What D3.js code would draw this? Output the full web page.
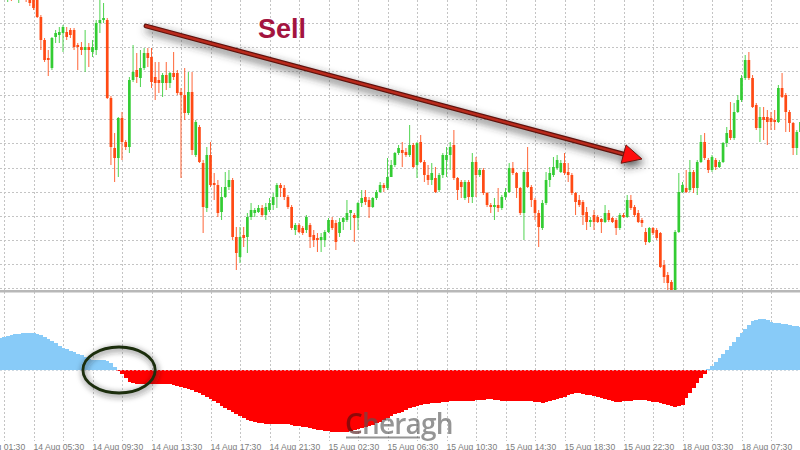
<!DOCTYPE html>
<html><head><meta charset="utf-8">
<script src="https://cdn.jsdelivr.net/npm/d3@7"></script>
<style>body{margin:0;background:#fff}svg{display:block}</style>
</head><body>
<svg id="c" width="800" height="450"></svg>
<script>
// ---- DATA ----
// candles: [open, high, low, close] in price units (one per 15-min bar, bar index = array index)
const ohlc = [
[320,335,305,328],[308,325,303,320],[305,320,298,315],[315,320,299,308],[306,322,300,318],
[310,330,297,325],[325,330,305,312],[312,315,298,304],[304,308,294,297],[300,305,290,292],
[300,303,282,283],[283,285,250,260],[260,262,238,240],[242,250,224,240],[232,263,230,262],
[263,270,257,267],[265,273,257,268],[267,275,248,273],[268,273,260,263],[270,272,262,265],
[270,272,250,253],[255,257,230,253],[253,258,245,250],[250,270,228,253],[253,257,233,250],
[248,260,243,253],[250,280,245,277],[277,300,267,280],[280,297,277,282],[280,282,201,202],
[202,204,135,153],[152,167,118,142],[142,183,123,182],[182,188,140,158],[158,160,150,153],
[153,223,147,220],[220,255,218,228],[230,247,217,223],[222,250,213,232],[232,252,230,247],
[247,252,233,242],[243,252,212,218],[223,238,200,217],[220,238,207,217],[217,227,203,225],
[225,238,210,217],[217,228,212,227],[227,248,220,223],[227,230,205,207],[208,212,122,205],
[205,232,180,187],[187,228,185,208],[208,228,145,150],[145,180,143,178],[173,175,137,138],
[137,140,67,93],[92,153,88,145],[145,158,113,115],[117,127,100,115],[115,120,83,87],
[88,113,80,103],[103,128,102,113],[113,130,110,120],[120,122,60,63],[63,73,30,47],
[43,73,37,63],[65,73,53,62],[63,87,47,83],[83,97,80,90],[87,92,83,90],
[88,95,87,92],[92,95,83,85],[85,97,80,93],[90,102,88,97],[95,107,90,103],
[103,117,92,115],[115,117,103,112],[112,115,100,103],[103,105,91,93],[93,95,70,72],
[70,77,65,75],[75,77,67,68],[72,74,65,67],[70,85,67,83],[75,77,52,63],
[65,70,53,60],[62,67,48,60],[60,67,48,63],[60,70,53,68],[68,82,67,80],
[80,83,70,72],[77,80,50,58],[67,82,63,78],[78,83,70,82],[80,100,78,87],
[87,90,70,90],[85,87,58,82],[82,98,70,97],[97,110,93,102],[103,110,95,98],
[100,103,82,93],[93,103,92,102],[102,110,100,108],[108,118,107,115],[115,117,108,112],
[112,142,110,123],[123,140,123,135],[135,148,133,147],[147,155,145,152],[150,158,133,147],
[148,152,143,145],[145,175,143,155],[155,157,132,133],[135,158,122,157],[158,165,137,138],
[138,140,118,125],[125,135,115,120],[120,137,115,127],[122,133,107,108],[110,127,108,125],
[125,147,122,145],[140,153,123,145],[145,158,130,153],[155,170,120,122],[122,123,100,110],
[118,120,102,113],[102,120,100,118],[118,120,97,103],[103,147,97,138],[138,143,103,125],
[125,132,123,130],[130,132,105,107],[107,108,93,95],[95,97,87,93],[93,102,80,95],
[95,112,88,92],[92,105,90,103],[103,112,100,108],[108,137,107,132],[132,138,125,127],
[127,128,102,112],[112,113,85,87],[87,130,60,128],[128,153,112,113],[113,115,93,100],
[100,102,80,87],[87,90,53,73],[72,100,70,97],[97,128,95,120],[120,133,113,127],
[125,143,123,133],[132,145,130,140],[128,140,127,137],[137,147,125,127],[128,137,118,125],
[125,127,105,107],[107,108,85,98],[100,105,93,95],[98,100,75,85],[88,93,70,78],
[78,83,73,80],[85,90,70,78],[83,85,77,78],[81,82,67,78],[78,95,77,87],
[87,90,78,80],[82,83,77,78],[80,82,65,72],[72,87,70,85],[85,87,82,83],
[83,105,82,100],[100,105,90,92],[93,95,83,85],[87,90,77,78],[80,82,73,77],
[68,72,55,58],[58,73,57,72],[72,73,65,67],[70,72,60,62],[67,68,32,33],
[35,40,17,23],[25,28,10,17],[18,20,7,10],[10,70,8,68],[68,127,67,108],
[108,118,107,115],[112,130,107,108],[110,140,108,128],[128,130,107,112],[112,140,105,138],
[138,165,137,158],[158,167,140,142],[140,142,127,130],[130,145,128,143],[140,142,130,133],
[133,140,132,138],[138,158,137,157],[157,173,153,167],[170,198,160,162],[162,197,160,188],
[188,205,187,200],[200,225,198,222],[222,245,220,240],[240,248,220,222],[222,225,192,193],
[195,197,170,172],[172,193,158,183],[183,193,160,180],[183,190,155,178],[182,188,170,178],
[180,190,170,178],[178,215,177,212],[212,227,202,203],[205,207,168,188],[188,190,168,177],
[177,178,145,152],[152,170,145,168],[168,182,165,178]
];
// oscillator histogram, one value per bar
const osc = [
32,33,34,35,36,36,37,37,37,37,
36,35,33,31,29,27,24,22,21,19,
18,16,15,13,11,10,10,10,10,9,
7,3,-1,-4,-8,-12,-13,-14,-14,-14,
-14,-14,-14,-14,-14,-14,-14,-15,-16,-17,
-18,-19,-20,-22,-23,-25,-27,-29,-31,-33,
-36,-38,-40,-42,-44,-46,-48,-50,-51,-52,
-53,-53,-54,-54,-54,-54,-54,-54,-54,-55,
-56,-56,-57,-57,-58,-59,-60,-60,-61,-61,
-62,-62,-62,-62,-62,-61,-60,-59,-58,-57,
-56,-55,-53,-52,-50,-48,-46,-44,-43,-42,
-40,-38,-37,-36,-35,-34,-34,-33,-33,-33,
-32,-32,-31,-31,-31,-31,-31,-31,-31,-30,
-30,-30,-29,-29,-30,-30,-31,-31,-31,-31,
-31,-31,-31,-31,-31,-32,-32,-33,-32,-31,
-30,-29,-28,-27,-25,-24,-23,-23,-24,-25,
-25,-26,-27,-28,-29,-30,-31,-32,-32,-31,
-31,-31,-30,-30,-30,-30,-31,-32,-32,-33,
-34,-35,-36,-37,-36,-35,-28,-23,-18,-13,
-8,-4,1,4,8,12,16,20,24,28,
33,37,41,45,49,50,51,51,50,48,
47,47,46,46,45,44,44,43
];
const tickBars = [-7,9,25,41,57,73,89,105,121,137,153,169,185,201];
const tickLabels = ["14 Aug 01:30","14 Aug 05:30","14 Aug 09:30","14 Aug 13:30","14 Aug 17:30",
  "14 Aug 21:30","15 Aug 02:30","15 Aug 06:30","15 Aug 10:30","15 Aug 14:30","15 Aug 18:30",
  "15 Aug 22:30","18 Aug 03:30","18 Aug 07:30"];
const sellText = "Sell";
const arrowFrom = {bar: 39.5, price: 274};
const arrowTo = {bar: 174, price: 141};
const circleAt = {bar: 32.2, value: 0, rBars: 9.8, rValue: 23};
const sellAt = {bar: 69.9, price: 262.5};
const watermark = ["C","heragh"];

// ---- SCALES ----
const svg = d3.select("#c");
const barStep = 3.6875;
const x = d3.scaleLinear().domain([1, 2]).range([4, 4 + barStep]);
const y = d3.scaleLinear().domain([0, 300]).range([300, 0]);
const yo = d3.scaleLinear().domain([-80, 78]).range([450, 292]);

const defs = svg.append("defs");
defs.append("clipPath").attr("id","topClip").append("rect").attr("x",0).attr("y",0).attr("width",800).attr("height",290);
const f = defs.append("filter").attr("id","sh").attr("x","-30%").attr("y","-60%").attr("width","160%").attr("height","220%");
f.append("feDropShadow").attr("dx",2).attr("dy",4).attr("stdDeviation",4).attr("flood-color","#333").attr("flood-opacity",0.85);
const f2 = defs.append("filter").attr("id","sh2").attr("x","-30%").attr("y","-30%").attr("width","160%").attr("height","160%");
f2.append("feDropShadow").attr("dx",1).attr("dy",2).attr("stdDeviation",3).attr("flood-color","#222").attr("flood-opacity",0.75);

// ---- GRID ----
const gridCol = "#c4c4c4";
const vBars = d3.range(-7, 230, 8);
const grid = svg.append("g");
grid.selectAll("line.v").data(vBars).join("line")
  .attr("x1", d => Math.round(x(d)) + 0.5).attr("x2", d => Math.round(x(d)) + 0.5)
  .attr("y1", 0).attr("y2", 441)
  .attr("stroke", gridCol).attr("stroke-width", 1).attr("stroke-dasharray", "2,2");
const hPrices = d3.range(11.7, 290, 24.15);
grid.selectAll("line.h").data(hPrices).join("line")
  .attr("x1", 0).attr("x2", 800)
  .attr("y1", d => Math.round(y(d)) + 0.5).attr("y2", d => Math.round(y(d)) + 0.5)
  .attr("stroke", gridCol).attr("stroke-width", 1).attr("stroke-dasharray", "2,2");

// zero line of oscillator
svg.append("line").attr("x1",0).attr("x2",800)
  .attr("y1", yo(0)+0.5).attr("y2", yo(0)+0.5)
  .attr("stroke", gridCol).attr("stroke-dasharray","2,2");

// ---- CANDLES ----
const up = "#33cc33", dn = "#ff4a14";
const cg = svg.append("g").attr("clip-path","url(#topClip)");
const cdata = ohlc.map((d,i) => ({i, o:d[0], h:d[1], l:d[2], c:d[3]}));
cg.selectAll("line.w").data(cdata).join("line")
  .attr("x1", d => x(d.i)).attr("x2", d => x(d.i))
  .attr("y1", d => y(d.h)).attr("y2", d => y(d.l))
  .attr("stroke", d => d.c >= d.o ? up : dn).attr("stroke-width", 1).attr("stroke-opacity",0.85);
cg.selectAll("rect.b").data(cdata).join("rect")
  .attr("x", d => x(d.i) - 1.35).attr("width", 2.7)
  .attr("y", d => y(Math.max(d.o, d.c)))
  .attr("height", d => Math.max(1.2, Math.abs(y(d.o) - y(d.c))))
  .attr("fill", d => d.c >= d.o ? up : dn);

// separator
svg.append("rect").attr("x",0).attr("y",290).attr("width",800).attr("height",2.5).attr("fill","#b8b8b8");

// ---- OSCILLATOR ----
svg.append("g").selectAll("rect").data(osc.map((v,i)=>({i,v}))).join("rect")
  .attr("x", d => x(d.i) - barStep/2).attr("width", barStep + 0.4)
  .attr("y", d => d.v >= 0 ? yo(d.v) : yo(0))
  .attr("height", d => Math.abs(yo(d.v) - yo(0)))
  .attr("fill", d => d.v >= 0 ? "#88cbf8" : "#ff0000")
  .attr("shape-rendering","crispEdges");
svg.append("line").attr("x1",0).attr("x2",800)
  .attr("y1", yo(0)+0.5).attr("y2", yo(0)+0.5)
  .attr("stroke", "#d8e8f4").attr("stroke-dasharray","2,2").attr("stroke-opacity",0.6);

// ---- X AXIS LABELS ----
svg.append("g").selectAll("text").data(tickBars).join("text")
  .attr("x", d => x(d)).attr("y", 449.5)
  .attr("font-family", "'Liberation Sans', Arial, sans-serif").attr("font-size", 8.6)
  .attr("fill", "#7c7c7c")
  .text((d,i) => tickLabels[i]);

// ---- WATERMARK ----
const wm = svg.append("g").attr("opacity",0.62);
const wt = wm.append("text").attr("x",345).attr("y",433.5)
  .attr("font-family","'Open Sans', sans-serif").attr("font-weight",600).attr("font-size",28).attr("fill","#555")
  .attr("letter-spacing","-0.8");
wt.append("tspan").attr("fill","#4a1010").text(watermark[0]);
wt.append("tspan").text(watermark[1]);
wm.append("line").attr("x1",346).attr("x2",420).attr("y1",437.5).attr("y2",437.5)
  .attr("stroke","#555").attr("stroke-width",1.8);

// ---- ELLIPSE ----
const ecx = x(circleAt.bar), ecy = yo(circleAt.value);
svg.append("ellipse").attr("cx", ecx).attr("cy", ecy)
  .attr("rx", x(circleAt.bar + circleAt.rBars) - ecx)
  .attr("ry", yo(0) - yo(circleAt.rValue))
  .attr("fill","none").attr("stroke","#1c2e10").attr("stroke-width",2.8)
  .attr("filter","url(#sh2)");

// ---- ARROW ----
const a0 = [x(arrowFrom.bar), y(arrowFrom.price)];
const a1 = [x(arrowTo.bar), y(arrowTo.price)];
const ang = Math.atan2(a1[1]-a0[1], a1[0]-a0[0]);
const cs = Math.cos(ang), sn = Math.sin(ang);
const hl = 19, hw = 9.5;
const base = [a1[0]-hl*cs, a1[1]-hl*sn];
const ag = svg.append("g").attr("filter","url(#sh)");
ag.append("line").attr("x1",a0[0]).attr("y1",a0[1]).attr("x2",base[0]+2*cs).attr("y2",base[1]+2*sn)
  .attr("stroke","#5e120c").attr("stroke-width",4.8).attr("stroke-linecap","round");
ag.append("line").attr("x1",a0[0]).attr("y1",a0[1]).attr("x2",base[0]+2*cs).attr("y2",base[1]+2*sn)
  .attr("stroke","#b92a1c").attr("stroke-width",2.4).attr("stroke-linecap","round");
ag.append("polygon")
  .attr("points", [a1, [base[0]-hw*sn, base[1]+hw*cs], [base[0]+hw*sn, base[1]-hw*cs]].map(p=>p.join(",")).join(" "))
  .attr("fill","#ff1010").attr("stroke","#6a140c").attr("stroke-width",1).attr("stroke-linejoin","round");

// ---- SELL TEXT ----
svg.append("text").attr("x", x(sellAt.bar)).attr("y", y(sellAt.price))
  .attr("font-family","'Liberation Sans', Arial, sans-serif").attr("font-weight","bold")
  .attr("font-size",27).attr("fill","#a3143f").text(sellText);
</script>
</body></html>
